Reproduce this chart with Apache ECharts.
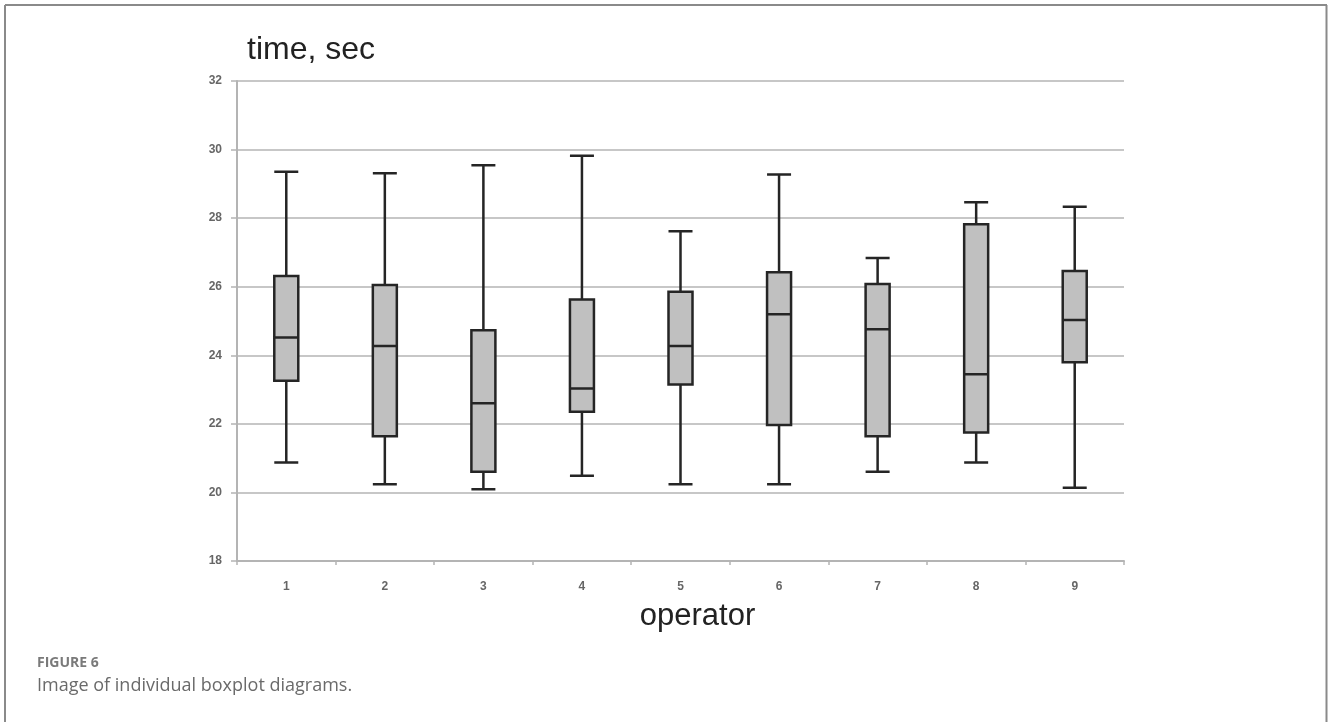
<!DOCTYPE html>
<html>
<head>
<meta charset="utf-8">
<script src="https://cdn.jsdelivr.net/npm/echarts@6/dist/echarts.min.js"></script>
<style>
  html, body { margin: 0; padding: 0; background: #fff; }
  #chart { width: 1328px; height: 722px; }
</style>
</head>
<body>
<div id="chart"></div>
<script>
const categories = ['1', '2', '3', '4', '5', '6', '7', '8', '9'];
const whiskerMin = [20.87, 20.24, 20.09, 20.49, 20.24, 20.24, 20.60, 20.87, 20.14];
const quartile1  = [23.26, 21.64, 20.60, 22.35, 23.15, 21.97, 21.64, 21.75, 23.80];
const medians    = [24.52, 24.27, 22.60, 23.03, 24.27, 25.20, 24.76, 23.45, 25.03];
const quartile3  = [26.31, 26.05, 24.73, 25.63, 25.85, 26.42, 26.08, 27.82, 26.46];
const whiskerMax = [29.35, 29.31, 29.54, 29.82, 27.62, 29.27, 26.84, 28.46, 28.33];
const yTicks = { min: 18, max: 32, interval: 2 };

const boxData = categories.map((c, i) => [whiskerMin[i], quartile1[i], medians[i], quartile3[i], whiskerMax[i]]);

const chart = echarts.init(document.getElementById('chart'));
chart.setOption({
  backgroundColor: '#fff',
  animation: false,
  grid: { left: 237, right: 204, top: 81, bottom: 161 },
  xAxis: {
    type: 'category',
    data: categories,
    boundaryGap: true,
    name: 'operator',
    nameLocation: 'middle',
    nameGap: 40,
    nameTextStyle: { fontFamily: 'Liberation Sans, Arial', fontSize: 31, color: '#222', padding: [0, 0, 0, 34] },
    axisLine: { lineStyle: { color: '#b4b4b4', width: 2 } },
    axisTick: { show: true, length: 4, inside: false, lineStyle: { color: '#b4b4b4', width: 1.5 } },
    axisLabel: { color: '#666', fontSize: 12, fontWeight: 'bold', margin: 20, fontFamily: 'Liberation Sans, Arial' },
    splitLine: { show: false }
  },
  yAxis: {
    type: 'value',
    min: yTicks.min,
    max: yTicks.max,
    interval: yTicks.interval,
    axisLine: { show: true, lineStyle: { color: '#b4b4b4', width: 2 } },
    axisTick: { show: true, length: 6, lineStyle: { color: '#b4b4b4', width: 1.5 } },
    axisLabel: { color: '#666', fontSize: 12, fontWeight: 'bold', margin: 15, fontFamily: 'Liberation Sans, Arial' },
    splitLine: { show: true, lineStyle: { color: '#b4b4b4', width: 1.5 } }
  },
  series: [{
    type: 'boxplot',
    data: boxData,
    boxWidth: [24, 24],
    itemStyle: { color: '#c0c0c0', borderColor: '#252525', borderWidth: 2.5 }
  }],
  graphic: [
    { type: 'text', left: 247, top: 34, style: { text: 'time, sec', fontFamily: 'Liberation Sans, Arial', fontSize: 32, fill: '#222' } },
    { type: 'line', shape: { x1: 5, y1: 5, x2: 1327, y2: 5 }, style: { stroke: '#8a8a8a', lineWidth: 2 } },
    { type: 'line', shape: { x1: 5, y1: 5, x2: 5, y2: 722 }, style: { stroke: '#8a8a8a', lineWidth: 2 } },
    { type: 'line', shape: { x1: 1326.5, y1: 5, x2: 1326.5, y2: 722 }, style: { stroke: '#8a8a8a', lineWidth: 2 } },
    { type: 'text', left: 37, top: 656, style: { text: 'FIGURE 6', fontFamily: 'Open Sans, Lato, sans-serif', fontSize: 14, fontWeight: 'bold', fill: '#7a7a7a' } },
    { type: 'text', left: 37, top: 677, style: { text: 'Image of individual boxplot diagrams.', fontFamily: 'Open Sans, Lato, sans-serif', fontSize: 18, fill: '#6a6a6a' } }
  ]
});
</script>
</body>
</html>
